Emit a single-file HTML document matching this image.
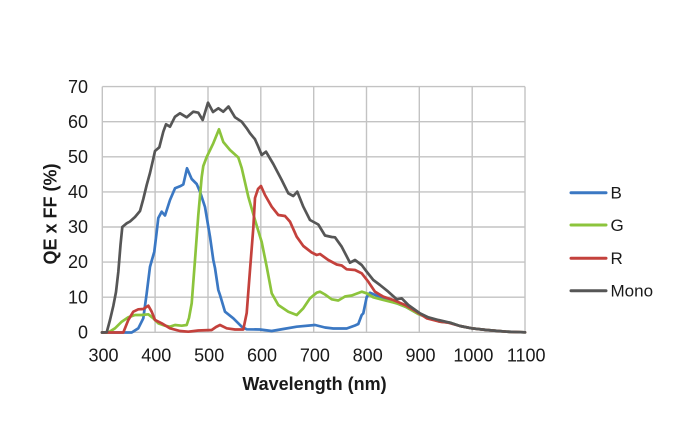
<!DOCTYPE html>
<html>
<head>
<meta charset="utf-8">
<style>
html,body{margin:0;padding:0;background:#fff;}
svg{display:block;}
text{font-family:"Liberation Sans",Arial,sans-serif;fill:#1a1a1a;}
</style>
</head>
<body>
<svg width="690" height="428" viewBox="0 0 690 428" xmlns="http://www.w3.org/2000/svg">
<rect width="690" height="428" fill="#fff"/>
<g stroke="#c3c3c3" stroke-width="1.4" fill="none">
<line x1="102.3" y1="86.6" x2="525" y2="86.6"/>
<line x1="102.3" y1="121.7" x2="525" y2="121.7"/>
<line x1="102.3" y1="156.8" x2="525" y2="156.8"/>
<line x1="102.3" y1="191.9" x2="525" y2="191.9"/>
<line x1="102.3" y1="227" x2="525" y2="227"/>
<line x1="102.3" y1="262.1" x2="525" y2="262.1"/>
<line x1="102.3" y1="297.2" x2="525" y2="297.2"/>
<line x1="102.3" y1="332.3" x2="525" y2="332.3"/>
<line x1="102.3" y1="86.6" x2="102.3" y2="332.3"/>
<line x1="155.1" y1="86.6" x2="155.1" y2="332.3"/>
<line x1="208" y1="86.6" x2="208" y2="332.3"/>
<line x1="260.8" y1="86.6" x2="260.8" y2="332.3"/>
<line x1="313.7" y1="86.6" x2="313.7" y2="332.3"/>
<line x1="366.5" y1="86.6" x2="366.5" y2="332.3"/>
<line x1="419.3" y1="86.6" x2="419.3" y2="332.3"/>
<line x1="472.2" y1="86.6" x2="472.2" y2="332.3"/>
<line x1="525" y1="86.6" x2="525" y2="332.3"/>
</g>
<g font-size="18" text-anchor="end">
<text x="88" y="93">70</text>
<text x="88" y="128">60</text>
<text x="88" y="163">50</text>
<text x="88" y="198">40</text>
<text x="88" y="233">30</text>
<text x="88" y="268">20</text>
<text x="88" y="303.5">10</text>
<text x="88" y="338.5">0</text>
</g>
<g font-size="18" text-anchor="middle">
<text x="103.5" y="361.5">300</text>
<text x="156.3" y="361.5">400</text>
<text x="209.2" y="361.5">500</text>
<text x="262" y="361.5">600</text>
<text x="314.9" y="361.5">700</text>
<text x="367.7" y="361.5">800</text>
<text x="420.5" y="361.5">900</text>
<text x="473.4" y="361.5">1000</text>
<text x="526.2" y="361.5">1100</text>
</g>
<text x="314.5" y="390" font-size="18" font-weight="bold" text-anchor="middle">Wavelength (nm)</text>
<text transform="translate(56.7,214) rotate(-90)" font-size="18" font-weight="bold" text-anchor="middle">QE x FF (%)</text>
<g fill="none" stroke-width="2.7" stroke-linejoin="round" stroke-linecap="round">
<polyline stroke="#3b78c3" points="102,332.5 131.7,332.5 138.3,328.3 143.3,318.3 146.7,293.3 150,266.7 154.3,251.7 156.7,231.7 158.3,218 161.7,211.7 165,215.5 170,200 175,188.3 180,186.3 183.3,184.5 187,168.3 191.7,179 196.7,184 200,191.7 205,207 210,236.7 213.3,260 215,268 218.3,290 220,295 225,311.7 233.3,318.3 241.7,326.7 246.7,329.3 260,329.5 271.7,331 283.3,329 296.7,326.7 315,325 325,327.5 333.3,328.5 346.7,328.5 355,325.5 358.3,324 361.7,315 363.3,313.3 366.7,297 370,292.7 380,297 386.7,300 396.7,303.3 406.7,307.3 418.3,314 430,318.3 440,321.7 450,322.7 460,326 471.7,328.3 486.7,330 506.7,331.7 525,332.3"/>
<polyline stroke="#8cc43c" points="102,332.5 108.3,332.5 115,328.3 121.7,321.7 128.3,317.3 135,315 141.7,315 148.3,314.3 153.3,318.3 158.3,323.3 165,325.7 170,326.7 175,325 181.7,325.7 186.7,325 189,318 191.7,303.3 195,260 198.3,215 201.7,177 203.3,166 206.7,157 213.3,143.3 219,129.3 223.3,142 230,150 238.3,157.5 241.7,168 248.3,196.7 255,220 261.7,242 266.7,266.7 271.7,293.3 278.3,305 288.3,311.7 296.7,315 303.3,308.3 310,298.3 316.7,292.7 320,291.7 325,294.5 331.7,299.3 338.3,300.5 345,296.5 351.7,295.5 361.7,291.7 366.7,293.3 373.3,297.3 383.3,300 396.7,303.3 406.7,307.3 418.3,314 430,318.3 440,321.7 450,322.7 460,326 471.7,328.3 486.7,330 506.7,331.7 525,332.3"/>
<polyline stroke="#c4413c" points="102,332.5 123.3,332.5 128.3,320 133.3,311.7 138.3,309.3 143.3,309 148.3,305.7 151.7,311.7 155,320 161.7,323.3 170,328.3 180,331 188.3,331.7 198.3,330.5 211.7,330 216,327 220,325 226.7,328.3 235,329.5 243.3,329.5 246.7,313 250,270 253.3,228 255,198 258,189 261,186 265,195 271.7,206.7 278.3,215 285,216 290,221.7 296.7,236.7 303.3,246 311.7,252.5 316.7,255 320,254 328.3,260 336.7,264.5 341.7,265.5 346.7,269.3 355,270 361.7,273.3 368.3,281.7 375,291.7 383.3,296.7 393.3,300 405,305 416.7,311.7 426.7,318.3 440,321.7 448.3,322.7 460,326 471.7,328.3 486.7,330 506.7,331.7 525,332.3"/>
<polyline stroke="#565656" points="102,332.5 106.7,332.3 110,320 113.3,306 116,292 118.3,272 120.5,245 122.3,227 126.7,223.3 130,221.5 135,217 140,211 143.3,199 146.7,185 150,173 153,160 155,151 159.3,147.3 163.3,131.7 166,124.3 170,126.7 175,116.7 180,113.3 186.7,117.3 193.3,111.7 198.3,112.7 202.7,120 208,102.7 213,112 218.3,108.3 223.3,111.7 228.5,106.5 235,117.3 241.7,121.7 246.7,128.3 250,133.3 255,139.3 258.3,146.7 261.7,155 266,151.7 273.3,164 281.7,180 288.3,193.3 293.3,196 297.3,191.7 303.3,206.7 310,220 318.3,224.5 325,235.5 331.7,237 335,237.3 341.7,246.7 350,262.7 355,260 361.7,265 366.7,271.7 373.3,280 380,285 388.3,291.7 396.7,299.3 401.7,298.3 408.3,305 420,313.3 428.3,317.3 438.3,320 450,322.7 460,326 471.7,328.3 486.7,330 506.7,331.7 525,332.3"/>
</g>
<g stroke-width="3" stroke-linecap="round">
<line x1="571" y1="192.7" x2="606" y2="192.7" stroke="#3b78c3"/>
<line x1="571" y1="225" x2="606" y2="225" stroke="#8cc43c"/>
<line x1="571" y1="258.3" x2="606" y2="258.3" stroke="#c4413c"/>
<line x1="571" y1="290.7" x2="606" y2="290.7" stroke="#565656"/>
</g>
<g font-size="17">
<text x="610.5" y="198.6">B</text>
<text x="610.5" y="230.9">G</text>
<text x="610.5" y="264.2">R</text>
<text x="610.5" y="296.6">Mono</text>
</g>
</svg>
</body>
</html>
